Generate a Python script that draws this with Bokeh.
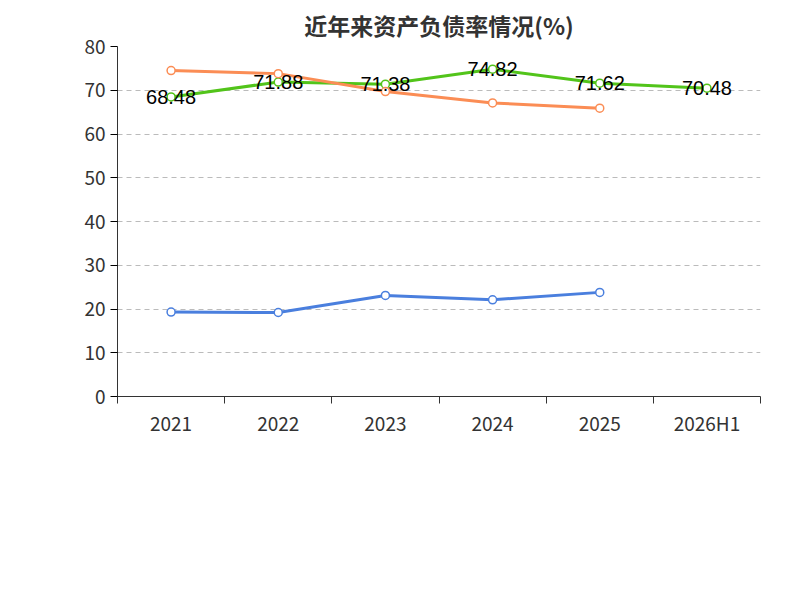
from bokeh.plotting import figure
from bokeh.models import FixedTicker, Legend, LegendItem, Title, Label, Range1d
from bokeh.embed import file_html
from bokeh.resources import INLINE

cats = ["2021", "2022", "2023", "2024", "2025", "2026H1"]
company = [68.48, 71.88, 71.38, 74.82, 71.62, 70.48]
ind_mean = [19.3, 19.2, 23.1, 22.1, 23.8]
ind_median = [74.5, 73.8, 69.7, 67.1, 65.9]

xs = [i + 0.5 for i in range(len(cats))]
F = "Noto Sans CJK SC"

p = figure(frame_width=643, frame_height=350, output_backend="svg", toolbar_location=None,
           x_range=Range1d(0, 6), y_range=Range1d(0, 80),
           min_border_left=117, min_border_right=24, min_border_top=30, min_border_bottom=10)
p.outline_line_color = None
p.xgrid.grid_line_color = None
p.ygrid.grid_line_dash = "5 4"
p.ygrid.grid_line_color = "#bbbbbb"
p.yaxis.ticker = FixedTicker(ticks=list(range(0, 81, 10)))
p.xaxis.ticker = FixedTicker(ticks=xs, minor_ticks=list(range(7)))
p.xaxis.major_label_overrides = {x: c for x, c in zip(xs, cats)}
p.xaxis.major_tick_line_color = None
p.xaxis.minor_tick_out = 7
p.xaxis.minor_tick_in = 0
p.xaxis.minor_tick_line_color = "#333333"
p.yaxis.minor_tick_line_color = None
p.yaxis.major_tick_in = 0
p.yaxis.major_tick_out = 7
for ax in (p.xaxis, p.yaxis):
    ax.axis_line_color = "#333333"
    ax.major_label_text_font_size = "19px"
    ax.major_label_text_font = F
    ax.major_label_text_color = "#333333"

r1 = p.line(xs, company, line_color="#52c41a", line_width=3)
c1 = p.scatter(xs, company, size=8, fill_color="white", line_color="#52c41a", line_width=1.5)
r2 = p.line(xs[:5], ind_mean, line_color="#4a7fde", line_width=3)
c2 = p.scatter(xs[:5], ind_mean, size=8, fill_color="white", line_color="#4a7fde", line_width=1.5)
r3 = p.line(xs[:5], ind_median, line_color="#fb8d55", line_width=3)
c3 = p.scatter(xs[:5], ind_median, size=8, fill_color="white", line_color="#fb8d55", line_width=1.5)

p.text(xs, company, text=[f"{v:.2f}" for v in company], text_align="center",
       text_baseline="middle", text_font_size="20px", text_color="black")

p.add_layout(Label(x=-60, y=72, x_units="screen", y_units="data", text="(%)", angle=1.5708,
                   text_color="red", text_font_size="14px", text_align="center"))

lg = Legend(items=[LegendItem(label="公司资产负债率", renderers=[r1, c1]),
                   LegendItem(label="行业均值", renderers=[r2, c2]),
                   LegendItem(label="行业中位数", renderers=[r3, c3])],
            orientation="horizontal", location="center", label_text_font_size="20px",
            label_text_font=F, label_text_color="#333333", glyph_width=50, spacing=25,
            border_line_color=None, margin=0, padding=5)
p.add_layout(lg, "below")

foot = Title(text="制图数据来自恒生聚源数据库", align="center", text_font_size="15px",
             text_color="#c8961e", text_font=F, text_font_style="normal")
p.add_layout(foot, "below")

t = Title(text="近年来资产负债率情况(%)", align="center", text_font_size="23px",
          text_font=F, text_color="#333333")
p.add_layout(t, "above")

open("out.html", "w").write(file_html(p, INLINE))
